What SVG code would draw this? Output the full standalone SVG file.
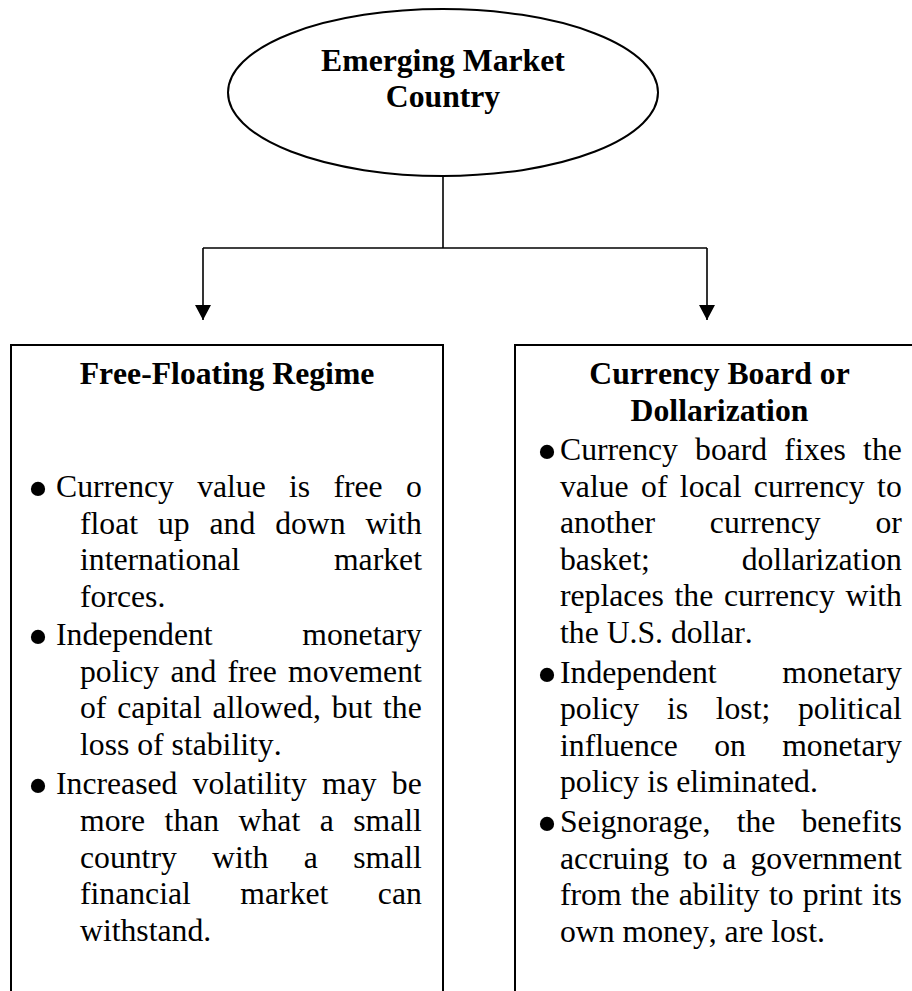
<svg xmlns="http://www.w3.org/2000/svg" width="912" height="991" viewBox="0 0 912 991">
  <defs>
    <marker id="arrow" markerWidth="16" markerHeight="16" refX="15" refY="8" orient="auto" markerUnits="userSpaceOnUse">
      <path d="M0,0 L15,8 L0,16 Z" fill="#000"/>
    </marker>
    <style>
      .shape { fill: #fff; stroke: #000; stroke-width: 2; }
      .conn { fill: none; stroke: #000; stroke-width: 1.6; }
      text { font-family: "Liberation Serif", "Times New Roman", serif; font-size: 31.7px; fill: #000; font-kerning: none; }
      .title { font-weight: bold; text-anchor: middle; }
      .bul { font-size: 60px; }
    </style>
  </defs>
  <rect width="912" height="991" fill="#fff"/>

  <g id="connectors">
    <polyline class="conn" points="443,176 443,248"/>
    <polyline class="conn" points="203,248 707,248"/>
    <line class="conn" x1="203" y1="248" x2="203" y2="320" marker-end="url(#arrow)"/>
    <line class="conn" x1="707" y1="248" x2="707" y2="320" marker-end="url(#arrow)"/>
  </g>

  <g id="emerging-market-country">
    <ellipse class="shape" cx="443" cy="92.5" rx="215" ry="83.5"/>
    <text class="title" x="443" y="71">Emerging Market</text>
    <text class="title" x="443" y="107">Country</text>
  </g>

  <g id="free-floating-regime">
    <rect class="shape" x="11" y="345" width="432" height="700"/>
    <text class="title" x="227" y="384">Free-Floating Regime</text>
    <text class="bul" x="27.5" y="509">•</text>
    <text x="56" y="497" word-spacing="15.34">Currency value is free o</text>
    <text x="80" y="533.6" word-spacing="11.97">float up and down with</text>
    <text x="80" y="570.2" word-spacing="85.9">international market</text>
    <text x="80" y="606.8">forces.</text>
    <text class="bul" x="27.5" y="657">•</text>
    <text x="56" y="645" word-spacing="81.7">Independent monetary</text>
    <text x="80" y="681.6" word-spacing="3.37">policy and free movement</text>
    <text x="80" y="718.2" word-spacing="2.95">of capital allowed, but the</text>
    <text x="80" y="754.8">loss of stability.</text>
    <text class="bul" x="27.5" y="806.4">•</text>
    <text x="56" y="794.4" word-spacing="7.23">Increased volatility may be</text>
    <text x="80" y="831" word-spacing="11.55">more than what a small</text>
    <text x="80" y="867.6" word-spacing="27.4">country with a small</text>
    <text x="80" y="904.2" word-spacing="41.6">financial market can</text>
    <text x="80" y="940.8">withstand.</text>
  </g>

  <g id="currency-board-dollarization">
    <rect class="shape" x="515" y="345" width="420" height="700"/>
    <text class="title" x="719.5" y="384">Currency Board or</text>
    <text class="title" x="719.5" y="421">Dollarization</text>
    <text class="bul" x="536.5" y="472">•</text>
    <text x="560" y="460" word-spacing="9.23">Currency board fixes the</text>
    <text x="560" y="496.6" word-spacing="4.5">value of local currency to</text>
    <text x="560" y="533.2" word-spacing="46.9">another currency or</text>
    <text x="560" y="569.8" word-spacing="84.0">basket; dollarization</text>
    <text x="560" y="606.4" word-spacing="2.8">replaces the currency with</text>
    <text x="560" y="643">the U.S. dollar.</text>
    <text class="bul" x="536.5" y="694.6">•</text>
    <text x="560" y="682.6" word-spacing="57.7">Independent monetary</text>
    <text x="560" y="719.2" word-spacing="19.77">policy is lost; political</text>
    <text x="560" y="755.8" word-spacing="28.4">influence on monetary</text>
    <text x="560" y="792.4">policy is eliminated.</text>
    <text class="bul" x="536.5" y="844">•</text>
    <text x="560" y="832" word-spacing="18.25">Seignorage, the benefits</text>
    <text x="560" y="868.6" word-spacing="6.3">accruing to a government</text>
    <text x="560" y="905.2" word-spacing="1.3">from the ability to print its</text>
    <text x="560" y="941.8">own money, are lost.</text>
  </g>
</svg>
